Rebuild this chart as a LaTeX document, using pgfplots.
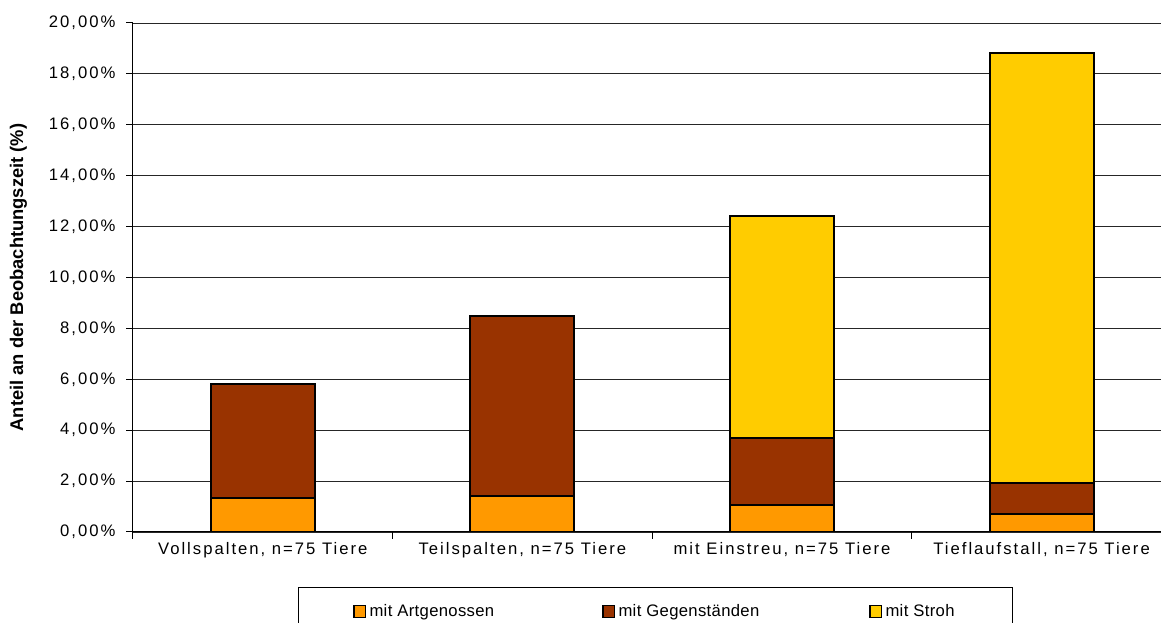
\documentclass[border=0pt]{standalone}
\usepackage{fontspec}
\setmainfont{Liberation Sans}[LetterSpace=12]
\newfontfamily\plainsans{Liberation Sans}
\newfontfamily\legendsans{Liberation Sans}[LetterSpace=2]
\usepackage{pgfplots}
\pgfplotsset{compat=1.18}
\definecolor{artgen}{HTML}{FF9900}
\definecolor{gegen}{HTML}{993300}
\definecolor{stroh}{HTML}{FFCC00}

% Anteil an der Beobachtungszeit in Prozent
\pgfplotstableread{
x  art   gegen  stroh
0  1.34  4.49   0
1  1.43  7.06   0
2  1.05  2.66   8.72
3  0.71  1.20   16.91
}\datatable

\begin{document}
\begin{tikzpicture}
\path[use as bounding box, clip] (-79.8pt,-54.6pt) rectangle (616.8pt,319.2pt);
\begin{axis}[
  at={(0pt,0pt)}, anchor=south west,
  scale only axis, width=616.8pt, height=305.4pt,
  ybar stacked, bar width=0.40,
  xmin=-0.5, xmax=3.46, ymin=0, ymax=20,
  axis x line*=bottom, axis y line*=left,
  axis line style={line width=0.6pt, -},
  ytick={0,2,...,20},
  yticklabels={{0,00\%},{2,00\%},{4,00\%},{6,00\%},{8,00\%},{10,00\%},{12,00\%},{14,00\%},{16,00\%},{18,00\%},{20,00\%}},
  yticklabel style={xshift=-3pt},
  ymajorgrids, grid style={black!85, line width=0.5pt},
  xtick={-0.5,0.5,1.5,2.5}, xticklabels={},
  extra x ticks={0,1,2,3},
  extra x tick labels={{Vollspalten, n=75 Tiere},{Teilspalten, n=75 Tiere},{mit Einstreu, n=75 Tiere},{Tieflaufstall, n=75 Tiere}},
  extra x tick style={major tick length=0pt, xticklabel style={yshift=-3pt}},
  tick align=outside, major tick length=4pt,
  tick style={black, line width=0.6pt},
  ticklabel style={font=\fontsize{10}{12}\selectfont},
  /pgf/number format/assume math mode=true,
  ylabel={\plainsans\bfseries\fontsize{11}{13}\selectfont Anteil an der Beobachtungszeit (\%)},
  ylabel style={at={(axis description cs:-0.1115,0.5)}, anchor=center},
  legend columns=3,
  legend style={at={(0.5083,-0.108)}, anchor=north, draw=black, line width=0.6pt,
    inner xsep=33pt, inner ysep=8pt,
    font=\legendsans\fontsize{10}{12}\selectfont,
    /tikz/every even column/.append style={column sep=2pt}},
  legend image code/.code={\draw[#1, draw=black, line width=0.8pt] (0pt,-3.5pt) rectangle (7pt,3.5pt);},
]
\addplot[fill=artgen, draw=black, line width=1.2pt] table[x=x, y=art] {\datatable};
\addlegendentry{\makebox[135.6pt][l]{mit Artgenossen}}
\addplot[fill=gegen, draw=black, line width=1.2pt] table[x=x, y=gegen] {\datatable};
\addlegendentry{\makebox[146.4pt][l]{mit Gegenständen}}
\addplot[fill=stroh, draw=black, line width=1.2pt] table[x=x, y=stroh] {\datatable};
\addlegendentry{mit Stroh}
\end{axis}
\end{tikzpicture}
\end{document}
